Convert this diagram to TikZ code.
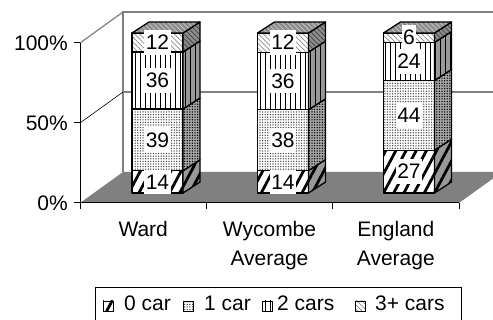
\documentclass[tikz,border=0pt]{standalone}
\usepackage{fontspec}
\setmainfont{Liberation Sans}
\usetikzlibrary{patterns.meta}
\pgfdeclarelayer{bg}
\pgfsetlayers{bg,main}
\tikzset{
    every node/.style={inner sep=0pt, font=\fontsize{21}{25}\selectfont},
    face/.style 2 args={preaction={fill=#1}, pattern={#2}, pattern color=black, draw=black, line width=1.3pt, line join=round},
    car0/.style={face={white}{Lines[angle=62,distance=9pt,line width=2.8pt]}},
    car0 side/.style={face={black!40}{Lines[angle=62,distance=9pt,line width=2.8pt]}},
    car1/.style={face={white}{Dots[radius=0.75pt,distance=2.6pt]}, pattern color=black!70},
    car1 side/.style={face={black!35}{Dots[radius=0.75pt,distance=2.6pt]}},
    car2/.style={face={white}{Lines[angle=90,distance=5pt,line width=0.9pt]}},
    car2 side/.style={face={black!40}{Lines[angle=90,distance=5pt,line width=0.9pt]}},
    car3/.style={face={white}{Lines[angle=-45,distance=3.5pt,line width=0.7pt]}, pattern color=black!45},
    car3 side/.style={face={black!45}{Lines[angle=-45,distance=3.5pt,line width=0.7pt]}, pattern color=black!75},
    car3 top/.style={face={black!45}{Lines[angle=-45,distance=3.5pt,line width=0.7pt]}, pattern color=black!20},
    numlab/.style={fill=white, inner xsep=1.5pt, inner ysep=5pt},
    wall/.style={draw=black!50, line width=1.2pt},
    catlab/.style={anchor=north, align=center, font=\fontsize{21}{29}\selectfont},
}
% one stacked slice: left x, bottom y, top y, style, name, value
\newcommand{\carseg}[6]{%
    \begin{pgfonlayer}{bg}
        \draw[#4] (#1,#2) rectangle (#1+51,#3);
        \draw[#4 side] (#1+51,#2) -- (#1+68,#2-11) -- (#1+68,#3-11) -- (#1+51,#3) -- cycle;
    \end{pgfonlayer}
    \node[numlab] (#5) at (#1+25.5,{(#2+#3)/2}) {#6};
}
\newcommand{\cartop}[2]{%
    \begin{pgfonlayer}{bg}
        \draw[car3 top] (#1,#2) -- (#1+17,#2-11) -- (#1+68,#2-11) -- (#1+51,#2) -- cycle;
    \end{pgfonlayer}
}

\begin{document}
\begin{tikzpicture}[x=1pt, y=-1pt]
    \useasboundingbox (0,0) rectangle (493,320);
    \clip (0,0) rectangle (493,320);

    % walls and floor
    \begin{pgfonlayer}{bg}
        \fill[black!50] (80,203) -- (459,203) -- (502,172) -- (123,172) -- cycle;
        \draw[wall] (123,172) -- (123,12) -- (502,12);
        \draw[wall] (123,92) -- (502,92);
        \draw[wall] (80,43) -- (123,12);
        \draw[line width=0.6pt] (80,123) -- (123,92);
    \end{pgfonlayer}

    % axes
    \draw[line width=1pt] (80,43) -- (80,203) -- (459,203);
    \draw[line width=1pt] (74,43) -- (80,43) (74,123) -- (80,123) (74,203) -- (80,203);
    \draw[line width=1pt] (80,203) -- (80,209) (206.3,203) -- (206.3,209)
        (332.7,203) -- (332.7,209) (459,203) -- (459,209);

    \node (p100) [anchor=base east] at (68,50.5) {100\%};
    \node (p50) [anchor=base east] at (68,130.5) {50\%};
    \node (p0) [anchor=base east] at (68,210.5) {0\%};

    % Ward
    \carseg{132}{193}{170.8}{car0}{w0}{14}
    \carseg{132}{170.8}{109}{car1}{w1}{39}
    \carseg{132}{109}{52}{car2}{w2}{36}
    \carseg{132}{52}{33}{car3}{w3}{12}
    \cartop{132}{33}

    % Wycombe
    \carseg{257.5}{193}{170.6}{car0}{y0}{14}
    \carseg{257.5}{170.6}{109.8}{car1}{y1}{38}
    \carseg{257.5}{109.8}{52.2}{car2}{y2}{36}
    \carseg{257.5}{52.2}{33}{car3}{y3}{12}
    \cartop{257.5}{33}

    % England
    \carseg{383.5}{193}{150.2}{car0}{e0}{27}
    \carseg{383.5}{150.2}{80.5}{car1}{e1}{44}
    \carseg{383.5}{80.5}{42.5}{car2}{e2}{24}
    \carseg{383.5}{42.5}{33}{car3}{e3}{6}
    \cartop{383.5}{33}

    \node (ward) [catlab] at (143.2,221) {Ward};
    \node (wyc) [catlab] at (269.5,221) {Wycombe\\Average};
    \node (eng) [catlab] at (395.8,221) {England\\Average};

    % legend
    \draw[line width=0.8pt] (95,287) rectangle (461,322);
    \draw[car0, line width=0.8pt] (103,301) rectangle (113,311);
    \draw[car1, line width=0.8pt] (183,301) rectangle (193,311);
    \draw[car2, line width=0.8pt] (262,301) rectangle (272,311);
    \draw[car3, line width=0.8pt] (355,301) rectangle (365,311);
    \node (l0) [anchor=base west] at (124,310.5) {0 car};
    \node (l1) [anchor=base west] at (204,310.5) {1 car};
    \node (l2) [anchor=base west] at (277,310.5) {2 cars};
    \node (l3) [anchor=base west] at (375,310.5) {3+ cars};
\end{tikzpicture}
\end{document}
